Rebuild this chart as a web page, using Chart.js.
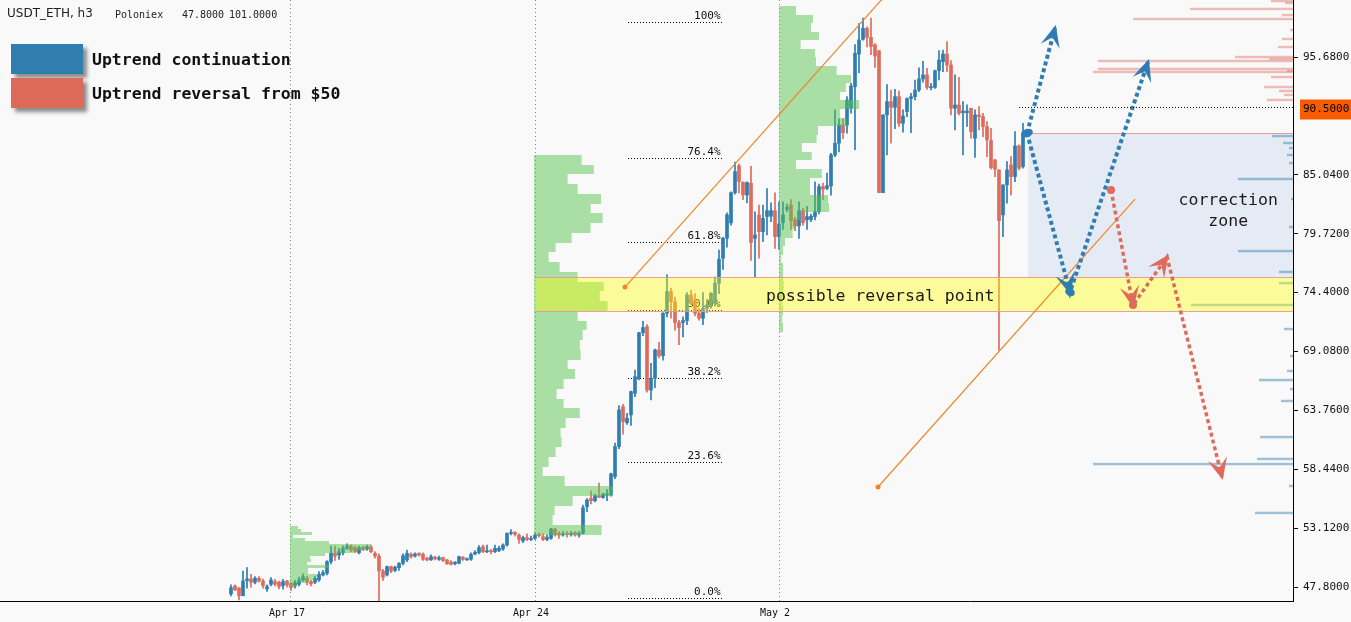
<!DOCTYPE html>
<html>
<head>
<meta charset="utf-8">
<script src="https://cdn.jsdelivr.net/npm/chart.js@4.4.0/dist/chart.umd.min.js"></script>
<style>
html, body { margin: 0; padding: 0; background: #f9f9f9; }
#wrap { position: relative; width: 1351px; height: 622px; }
</style>
</head>
<body>
<div id="wrap"><canvas id="chart"></canvas></div>
<script>
// USDT_ETH h3 candles (index = candle number)
const candleOpen = [
  47.18, 47.90, 47.72, 47.02, 48.38, 48.53, 48.23, 48.59, 48.35, 47.63,
  48.05, 48.29, 48.23, 47.93, 48.35, 48.14, 47.90, 48.05, 48.44, 48.59,
  48.29, 48.23, 48.44, 48.89, 49.04, 50.09, 50.85, 50.70, 50.90, 51.30,
  51.50, 51.36, 50.90, 51.40, 51.24, 51.42, 50.85, 50.60, 49.25, 48.90,
  49.65, 49.30, 49.55, 49.94, 50.25, 50.76, 50.60, 50.85, 50.76, 50.40,
  50.25, 50.50, 50.30, 50.45, 50.25, 50.05, 49.90, 49.95, 50.50, 50.25,
  50.31, 50.79, 50.91, 51.45, 50.99, 51.09, 51.00, 51.09, 51.24, 51.60,
  52.65, 52.74, 52.50, 51.96, 52.26, 52.10, 52.20, 52.56, 52.35, 52.10,
  52.20, 53.05, 52.65, 52.50, 52.65, 52.56, 52.74, 52.50, 52.65, 55.06,
  55.81, 55.60, 56.05, 55.90, 56.10, 56.13, 57.78, 60.49, 64.10, 62.65,
  63.35, 65.30, 66.66, 70.78, 71.33, 65.60, 66.66, 69.22, 68.70, 72.53,
  74.49, 73.58, 71.69, 71.69, 71.87, 74.19, 73.74, 72.53, 72.08, 72.98,
  73.28, 73.43, 75.24, 77.50, 79.31, 80.70, 83.43, 85.87, 84.37, 83.22,
  84.28, 79.30, 81.41, 79.91, 81.27, 81.30, 81.80, 79.46, 80.72, 81.93,
  82.32, 80.96, 80.42, 81.80, 80.96, 81.00, 81.27, 81.70, 83.97, 83.82,
  84.03, 86.83, 87.89, 89.54, 89.54, 91.05, 93.00, 95.95, 97.28, 98.27,
  97.46, 96.77, 96.25, 83.43, 90.45, 91.65, 91.14, 92.10, 89.69, 90.75,
  91.92, 92.10, 92.70, 93.70, 94.06, 92.90, 92.94, 94.45, 95.26, 95.95,
  94.96, 91.05, 91.35, 90.65, 90.65, 91.05, 88.34, 90.45, 90.30, 89.39,
  88.13, 86.38, 85.48, 81.42, 84.13, 85.93, 84.88, 87.65, 85.78
];
const candleHigh = [
  47.99, 47.99, 47.75, 49.25, 49.55, 48.95, 48.74, 48.74, 48.53, 47.99,
  48.65, 48.50, 48.35, 48.50, 48.40, 48.20, 48.40, 48.70, 49.00, 48.80,
  48.40, 48.80, 49.20, 49.30, 50.20, 51.50, 51.50, 51.30, 51.50, 51.70,
  51.60, 51.50, 51.50, 51.50, 51.60, 51.60, 51.00, 50.80, 49.40, 49.70,
  49.70, 49.70, 50.00, 50.80, 51.15, 50.90, 50.90, 50.90, 50.90, 50.50,
  50.70, 50.60, 50.60, 50.50, 50.30, 50.20, 50.10, 50.60, 50.55, 50.45,
  50.90, 51.10, 51.55, 51.60, 51.60, 51.20, 51.60, 51.50, 51.70, 52.70,
  53.00, 52.80, 52.60, 52.40, 52.60, 52.40, 52.70, 52.70, 52.60, 52.50,
  53.10, 53.10, 52.80, 52.80, 52.80, 52.80, 52.80, 52.80, 55.20, 55.80,
  56.50, 56.20, 57.20, 56.30, 56.60, 58.10, 60.80, 64.20, 64.30, 63.50,
  65.50, 67.40, 70.80, 71.80, 71.50, 68.00, 69.30, 69.90, 72.60, 76.00,
  74.80, 74.00, 71.90, 72.20, 74.40, 74.60, 74.30, 73.00, 74.40, 73.80,
  74.40, 75.80, 78.25, 79.40, 81.60, 83.50, 86.20, 86.00, 84.40, 84.40,
  85.80, 81.70, 82.30, 82.30, 83.80, 82.50, 83.40, 82.60, 82.60, 82.40,
  82.80, 81.20, 82.60, 82.00, 82.20, 81.50, 84.40, 84.20, 84.30, 85.20,
  86.98, 90.90, 90.10, 90.10, 92.10, 93.30, 96.80, 98.70, 99.20, 98.40,
  99.20, 96.90, 96.25, 90.45, 93.20, 92.70, 92.76, 92.60, 90.90, 92.00,
  92.40, 93.60, 94.70, 95.30, 94.66, 93.30, 94.50, 96.25, 96.30, 97.07,
  95.35, 94.06, 93.85, 91.65, 91.35, 91.05, 90.90, 91.20, 90.60, 89.84,
  89.24, 86.44, 85.48, 84.13, 86.23, 86.68, 88.94, 87.74, 89.69
];
const candleLow = [
  47.00, 47.48, 46.63, 47.00, 47.69, 47.78, 48.08, 48.23, 47.69, 47.40,
  47.90, 47.90, 47.63, 47.60, 47.80, 47.50, 47.70, 47.90, 48.30, 48.00,
  47.90, 48.10, 48.30, 48.80, 48.90, 49.90, 50.20, 50.30, 50.70, 51.20,
  51.00, 50.90, 50.80, 51.10, 51.10, 50.90, 50.40, 46.50, 48.40, 48.80,
  49.10, 49.20, 49.30, 49.80, 50.10, 50.40, 50.50, 50.60, 50.20, 50.15,
  50.20, 50.25, 50.20, 50.10, 49.85, 49.80, 49.80, 49.90, 50.20, 50.20,
  50.20, 50.70, 50.80, 50.90, 50.90, 50.80, 50.90, 51.00, 51.10, 51.50,
  52.50, 52.40, 51.75, 51.80, 52.00, 52.00, 52.10, 52.30, 52.00, 52.00,
  52.10, 52.40, 52.20, 52.40, 52.30, 52.40, 52.40, 52.30, 52.60, 54.60,
  55.30, 55.50, 55.90, 55.80, 55.60, 56.00, 57.60, 60.30, 61.60, 62.50,
  62.40, 65.00, 66.50, 70.50, 65.40, 64.70, 65.80, 68.50, 68.30, 72.20,
  72.10, 71.00, 69.70, 70.40, 71.50, 73.30, 72.30, 71.90, 71.50, 72.60,
  73.00, 73.20, 74.30, 76.50, 78.50, 80.50, 83.30, 83.40, 82.80, 82.50,
  77.30, 75.80, 77.50, 79.00, 79.60, 80.80, 78.40, 78.30, 80.10, 81.70,
  80.10, 80.00, 79.30, 80.50, 80.10, 80.80, 80.96, 81.50, 82.80, 83.70,
  83.20, 86.68, 87.10, 88.30, 88.79, 90.60, 87.30, 94.27, 97.20, 96.60,
  95.90, 94.75, 83.43, 83.43, 86.83, 87.90, 89.20, 89.40, 88.90, 90.30,
  88.85, 91.80, 92.55, 93.40, 92.76, 92.70, 92.85, 93.60, 94.36, 94.36,
  90.45, 89.09, 90.45, 86.83, 89.40, 88.34, 86.62, 89.09, 88.49, 86.68,
  85.54, 84.88, 69.20, 79.46, 82.47, 83.22, 84.43, 85.48, 85.63
];
const candleClose = [
  47.75, 47.54, 47.02, 48.35, 48.53, 48.23, 48.59, 48.35, 47.93, 47.84,
  48.44, 48.05, 47.84, 48.29, 47.99, 47.75, 48.20, 48.44, 48.74, 48.23,
  48.08, 48.59, 48.95, 49.10, 50.09, 50.85, 50.60, 51.00, 51.30, 51.50,
  51.15, 51.00, 51.36, 51.15, 51.45, 51.00, 50.60, 49.25, 48.68, 49.65,
  49.25, 49.60, 49.94, 50.64, 50.85, 50.55, 50.79, 50.70, 50.30, 50.25,
  50.55, 50.35, 50.45, 50.20, 49.90, 49.85, 50.05, 50.55, 50.30, 50.35,
  50.76, 50.94, 51.36, 51.00, 51.09, 50.99, 51.30, 51.30, 51.60, 52.65,
  52.74, 52.56, 52.10, 52.26, 52.10, 52.20, 52.50, 52.44, 52.10, 52.30,
  53.05, 52.50, 52.50, 52.56, 52.56, 52.65, 52.50, 52.65, 54.97, 55.66,
  55.60, 56.05, 55.90, 56.20, 56.20, 58.02, 60.49, 63.80, 62.75, 63.05,
  65.46, 66.80, 70.78, 71.24, 65.60, 66.66, 69.22, 68.68, 72.53, 74.49,
  73.58, 71.69, 71.24, 71.87, 74.19, 73.43, 72.53, 72.08, 72.98, 73.28,
  74.34, 75.24, 77.41, 79.31, 81.42, 83.43, 85.33, 84.43, 83.22, 84.34,
  78.92, 79.60, 79.91, 81.10, 81.80, 81.80, 79.46, 80.60, 81.41, 82.10,
  80.90, 80.42, 81.80, 80.72, 81.27, 81.30, 81.70, 83.97, 83.73, 84.06,
  86.83, 87.89, 89.54, 88.85, 91.80, 93.06, 96.01, 97.22, 98.27, 97.46,
  96.62, 95.77, 83.43, 90.45, 91.65, 91.14, 92.10, 89.69, 90.35, 91.92,
  92.10, 92.70, 93.70, 94.06, 92.94, 93.00, 94.45, 95.41, 95.95, 94.96,
  91.05, 91.35, 90.60, 90.80, 90.80, 88.94, 90.45, 90.30, 89.39, 88.19,
  85.69, 85.54, 80.90, 84.13, 85.48, 84.88, 87.65, 85.63, 88.79
];

// axes
const xTickIndex = [14, 75, 136];
const xTickLabels = ['Apr 17', 'Apr 24', 'May 2'];
const weekStartIndex = [14.75, 76, 137];
const yTickValues = [47.8, 53.12, 58.44, 63.76, 69.08, 74.4, 79.72, 85.04, 95.68];
const lastPriceLabel = '90.5000';
const lastPriceLine = 91.16;

// fibonacci retracement
const fibLevels = ['0.0%', '23.6%', '38.2%', '50.0%', '61.8%', '76.4%', '100%'];
const fibPrices = [46.81, 59.09, 66.69, 72.83, 78.97, 86.56, 98.84];

// volume profiles: widths in candles, rows from the top price down
const profileAprWidths = [2, 2.75, 5.5, 0.75, 3.75, 9.75, 20.25, 19.25, 16.25, 8.75,
  5, 5.25, 4.25, 9.5, 4.5, 4.5, 7, 6.25, 4.5, 1.75];
const profileWeekWidths = [11.85, 14.9, 8.35, 10.85, 16.7, 14.1, 17.1, 14.1, 9.35, 5.35,
  3.6, 6.35, 10.85, 17.4, 16.4, 18.35, 10.85, 13.1, 12.1, 11.4,
  11.6, 8.35, 10.2, 7.35, 5.6, 7.35, 11.4, 7.85, 6.6, 6.85,
  5.35, 3.6, 2.1, 7.6, 19.7, 9.6, 5.1, 4.6, 16.85];
const profileMayWidths = [4.25, 8.5, 8, 10, 5.4, 9, 9.25, 14.4, 18, 16.7,
  15.25, 20, 15.25, 16.9, 9.75, 9.4, 5.7, 8.2, 4.25, 10.7,
  7.75, 7.75, 12.25, 12.5, 5.25, 4, 3.4, 1.5, 1, 0.5,
  1, 1, 1.2, 1, 0.8, 1, 0.8, 1];
const sideProfilePrices = [100.74, 100.56, 100.02, 99.47, 99.11, 98.12, 97.31, 96.58, 95.68, 95.5,
  95.32, 94.6, 94.42, 94.33, 93.87, 92.97, 92.61, 92.25, 91.8,
  88.54, 87.91, 87.46, 86.83, 86.1, 84.66, 82.85, 80.32, 78.15, 76.26,
  75.26, 73.28, 71.11, 68.67, 67.32, 66.5, 65.69, 64.61, 61.35, 59.37,
  58.91, 56.93, 54.49];
const sideProfileWidths = [5.5, 2, 25.75, 2.75, 40, 0.75, 2.75, 3.75, 14.5, 6,
  48.75, 48.75, 1.5, 50, 5.5, 7.25, 3.5, 2.25, 6.5,
  5.25, 2.5, 1, 1.5, 1, 13.75, 0.5, 1, 13.75, 3.5,
  3.5, 25.5, 2.25, 0.75, 1.5, 8.5, 0.75, 3, 8.25, 9,
  50, 1, 9.5];

// trend lines and scenario arrows (candle index, price)
const upperTrendX = [98.5, 170];
const upperTrendY = [74.9, 103.84];
const lowerTrendX = [161.75, 226];
const lowerTrendY = [56.84, 82.85];
const blueUpX = [199, 206];
const blueUpY = [88.81, 98.3];
const blueDipX = [199, 209.75, 229.25];
const blueDipY = [88.81, 74.45, 95.23];
const redPathX = [220, 225.5, 234, 247.75];
const redPathY = [83.67, 73.28, 77.61, 57.74];

const upColor = '#2f7db1';
const downColor = '#df6b5c';
const trendColor = '#f0862a';

const candleColors = candleClose.map((c, i) => c >= candleOpen[i] ? upColor : downColor);
const toPoints = (xs, ys) => xs.map((v, k) => ({ x: v, y: ys[k] }));

function arrowHead(ctx, x1, y1, x2, y2, color) {
  const a = Math.atan2(y2 - y1, x2 - x1);
  ctx.fillStyle = color;
  ctx.strokeStyle = color;
  ctx.lineWidth = 2.5;
  ctx.beginPath();
  ctx.moveTo(x2, y2);
  ctx.lineTo(x2 - 15 * Math.cos(a - 0.42), y2 - 15 * Math.sin(a - 0.42));
  ctx.lineTo(x2 - 8 * Math.cos(a), y2 - 8 * Math.sin(a));
  ctx.lineTo(x2 - 15 * Math.cos(a + 0.42), y2 - 15 * Math.sin(a + 0.42));
  ctx.closePath();
  ctx.fill();
  ctx.stroke();
}

const overlays = {
  id: 'overlays',
  beforeDraw(chart) {
    const ctx = chart.ctx;
    ctx.save();
    ctx.fillStyle = '#f9f9f9';
    ctx.fillRect(0, 0, chart.width, chart.height);
    ctx.restore();
  },
  beforeDatasetsDraw(chart) {
    const { ctx, chartArea: a, scales: { x, y } } = chart;
    ctx.save();
    ctx.lineWidth = 1;
    ctx.strokeStyle = '#6f946f';
    ctx.setLineDash([1, 3]);
    weekStartIndex.forEach(v => {
      const px = Math.round(x.getPixelForValue(v)) + 0.5;
      ctx.beginPath(); ctx.moveTo(px, a.top); ctx.lineTo(px, a.bottom); ctx.stroke();
    });
    // fib levels
    ctx.strokeStyle = '#000';
    ctx.setLineDash([1, 2]);
    ctx.fillStyle = '#111';
    ctx.font = '11px "DejaVu Sans Mono"';
    ctx.textAlign = 'right';
    ctx.textBaseline = 'bottom';
    const f0 = x.getPixelForValue(99.25), f1 = x.getPixelForValue(123), ft = x.getPixelForValue(122.4);
    fibPrices.forEach((p, k) => {
      const py = Math.round(y.getPixelForValue(p)) + 0.5;
      ctx.beginPath(); ctx.moveTo(f0, py); ctx.lineTo(f1, py); ctx.stroke();
      ctx.fillText(fibLevels[k], ft, py - 1);
    });
    ctx.restore();
  },
  afterDatasetDraw(chart, args) {
    if (args.index !== 1) return;
    const { ctx, chartArea: a, scales: { x, y } } = chart;
    const X = v => x.getPixelForValue(v), Y = v => y.getPixelForValue(v);
    ctx.save();
    ctx.beginPath(); ctx.rect(a.left, a.top, a.width, a.height); ctx.clip();

    // correction zone
    const zoneTop = 88.81, zoneBottom = 75.81, zoneStart = 199.3;
    ctx.fillStyle = 'rgba(90,140,210,0.12)';
    ctx.fillRect(X(zoneStart), Y(zoneTop), a.right - X(zoneStart), Y(zoneBottom) - Y(zoneTop));

    // profile on the price axis
    sideProfilePrices.forEach((p, k) => {
      ctx.fillStyle = p > zoneTop ? 'rgba(222,106,92,0.42)' : 'rgba(47,125,176,0.45)';
      const w = X(x.max) - X(x.max - sideProfileWidths[k]);
      ctx.fillRect(a.right - w, Y(p + 0.11), w, Y(p - 0.11) - Y(p + 0.11));
    });

    // green volume profiles
    ctx.fillStyle = 'rgba(90,195,80,0.5)';
    const drawProfile = (start, top, step, widths) => {
      widths.forEach((w, k) => {
        const y0 = Math.round(Y(top - k * step)), y1 = Math.round(Y(top - (k + 1) * step));
        const x0 = Math.round(X(start));
        ctx.fillRect(x0, y0, Math.max(1, X(start + w) - x0), y1 - y0);
      });
    };
    drawProfile(14.75, 53.3, 0.27, profileAprWidths);
    drawProfile(75.8, 86.83, 0.88, profileWeekWidths);
    drawProfile(137, 100.29, 0.775, profileMayWidths);

    // possible reversal band
    const bandTop = 75.81, bandBottom = 72.73, bandStart = 76;
    ctx.fillStyle = 'rgba(255,255,0,0.38)';
    ctx.fillRect(X(bandStart), Y(bandTop), a.right - X(bandStart), Y(bandBottom) - Y(bandTop));
    ctx.strokeStyle = 'rgba(232,150,150,0.9)';
    ctx.lineWidth = 1;
    [[bandStart, bandTop], [bandStart, bandBottom], [zoneStart, zoneTop]].forEach(([s, p]) => {
      const py = Math.round(Y(p)) + 0.5;
      ctx.beginPath(); ctx.moveTo(X(s), py); ctx.lineTo(a.right, py); ctx.stroke();
    });

    ctx.fillStyle = '#1a1a1a';
    ctx.font = '16.5px "DejaVu Sans Mono"';
    ctx.textAlign = 'center';
    ctx.textBaseline = 'middle';
    ctx.fillText('possible reversal point', X(162.3), Y(74.0));
    ctx.fillText('correction', X(249.3), Y(82.67));
    ctx.fillText('zone', X(249.3), Y(80.77));
    ctx.restore();
  },
  afterDraw(chart) {
    const { ctx, chartArea: a, scales: { x, y } } = chart;
    ctx.save();
    // arrowheads and blobs on the scenario paths
    [[4, upColor], [5, upColor], [6, downColor]].forEach(([di, col]) => {
      const pts = chart.getDatasetMeta(di).data;
      for (let k = 1; k < pts.length; k++) {
        arrowHead(ctx, pts[k - 1].x, pts[k - 1].y, pts[k].x, pts[k].y, col);
      }
    });
    const dip = chart.getDatasetMeta(5).data;
    ctx.fillStyle = upColor;
    ctx.beginPath(); ctx.ellipse(dip[0].x, dip[0].y, 6, 4, -0.3, 0, Math.PI * 2); ctx.fill();
    ctx.beginPath(); ctx.ellipse(dip[1].x, dip[1].y, 5, 4, 0.5, 0, Math.PI * 2); ctx.fill();
    const red = chart.getDatasetMeta(6).data;
    ctx.fillStyle = downColor;
    ctx.beginPath(); ctx.arc(red[1].x, red[1].y, 4, 0, Math.PI * 2); ctx.fill();

    // last price line and label
    const lp = Math.round(y.getPixelForValue(lastPriceLine)) + 0.5;
    ctx.strokeStyle = '#000';
    ctx.lineWidth = 1;
    ctx.setLineDash([1, 2]);
    ctx.beginPath(); ctx.moveTo(x.getPixelForValue(197), lp); ctx.lineTo(a.right, lp); ctx.stroke();
    ctx.setLineDash([]);
    ctx.fillStyle = '#f75c00';
    ctx.fillRect(a.right + 7, lp - 8, chart.width - a.right - 7, 20);
    ctx.fillStyle = '#000';
    ctx.font = '11px "DejaVu Sans Mono"';
    ctx.textAlign = 'left';
    ctx.textBaseline = 'middle';
    ctx.fillText(lastPriceLabel, a.right + 10, lp + 2);

    // title
    ctx.fillStyle = '#222';
    ctx.font = '12px "DejaVu Sans"';
    ctx.fillText('USDT_ETH, h3', 7, 14);
    ctx.font = '10px "DejaVu Sans Mono"';
    ctx.fillText('Poloniex', 115, 15);
    ctx.fillText('47.8000', 182, 15);
    ctx.fillText('101.0000', 229, 15);

    // legend
    ctx.shadowColor = 'rgba(0,0,0,0.45)';
    ctx.shadowBlur = 4;
    ctx.shadowOffsetX = 4;
    ctx.shadowOffsetY = 4;
    ctx.fillStyle = '#2f7eae';
    ctx.fillRect(11, 44, 72, 30);
    ctx.fillStyle = '#dc6b5c';
    ctx.fillRect(11, 78, 72, 30);
    ctx.shadowColor = 'transparent';
    ctx.fillStyle = '#111';
    ctx.font = 'bold 16.5px "DejaVu Sans Mono"';
    ctx.fillText('Uptrend continuation', 92, 61);
    ctx.fillText('Uptrend reversal from $50', 92, 95);
    ctx.restore();
  }
};

new Chart(document.getElementById('chart'), {
  type: 'bar',
  data: {
    datasets: [
      {
        type: 'bar', label: 'wick', order: 3, grouped: false, barThickness: 1,
        data: candleHigh.map((h, i) => ({ x: i, y: [candleLow[i], h] })),
        backgroundColor: candleColors
      },
      {
        type: 'bar', label: 'body', order: 2, grouped: false, barThickness: 3, minBarLength: 1,
        data: candleOpen.map((o, i) => ({ x: i, y: [o, candleClose[i]] })),
        backgroundColor: candleColors
      },
      {
        type: 'line', label: 'upper trend', order: 1, data: toPoints(upperTrendX, upperTrendY),
        borderColor: trendColor, borderWidth: 1.2, pointRadius: [2.5, 0],
        pointBackgroundColor: trendColor, pointBorderWidth: 0, tension: 0
      },
      {
        type: 'line', label: 'lower trend', order: 1, data: toPoints(lowerTrendX, lowerTrendY),
        borderColor: trendColor, borderWidth: 1.2, pointRadius: [2.5, 0],
        pointBackgroundColor: trendColor, pointBorderWidth: 0, tension: 0
      },
      {
        type: 'line', label: 'continuation up', order: 0, data: toPoints(blueUpX, blueUpY),
        borderColor: upColor, borderWidth: 4, borderDash: [4, 3], pointRadius: 0, tension: 0
      },
      {
        type: 'line', label: 'continuation dip', order: 0, data: toPoints(blueDipX, blueDipY),
        borderColor: upColor, borderWidth: 4, borderDash: [4, 3], pointRadius: 0, tension: 0
      },
      {
        type: 'line', label: 'reversal', order: 0, data: toPoints(redPathX, redPathY),
        borderColor: downColor, borderWidth: 3.5, borderDash: [4, 3], pointRadius: [4, 0, 0, 0],
        pointBackgroundColor: downColor, pointBorderWidth: 0, tension: 0
      }
    ]
  },
  options: {
    responsive: true,
    maintainAspectRatio: false,
    animation: false,
    events: [],
    layout: { padding: 0, autoPadding: false },
    plugins: { legend: { display: false }, tooltip: { enabled: false }, title: { display: false } },
    scales: {
      x: {
        type: 'linear', min: -57.75, max: 265.5, offset: false,
        afterBuildTicks: s => { s.ticks = xTickIndex.map(v => ({ value: v })); },
        afterFit: s => { s.height = 21; s.paddingLeft = 0; s.paddingRight = 0; },
        ticks: {
          autoSkip: false, maxRotation: 0, color: '#111', padding: 6,
          font: { family: 'DejaVu Sans Mono', size: 10 },
          callback: (v, idx) => xTickLabels[idx]
        },
        grid: { display: false, drawTicks: false },
        border: { display: true, color: '#000', width: 1 }
      },
      y: {
        type: 'linear', position: 'right', min: 46.54, max: 100.83,
        afterBuildTicks: s => { s.ticks = yTickValues.map(v => ({ value: v })); },
        afterFit: s => { s.width = 58; s.paddingTop = 0; s.paddingBottom = 0; },
        ticks: {
          autoSkip: false, color: '#111', padding: 5,
          font: { family: 'DejaVu Sans Mono', size: 11 },
          callback: v => Number(v).toFixed(4)
        },
        grid: { drawOnChartArea: false, drawTicks: true, tickLength: 5, color: '#000' },
        border: { display: true, color: '#000', width: 1 }
      }
    }
  },
  plugins: [overlays]
});
</script>
</body>
</html>
